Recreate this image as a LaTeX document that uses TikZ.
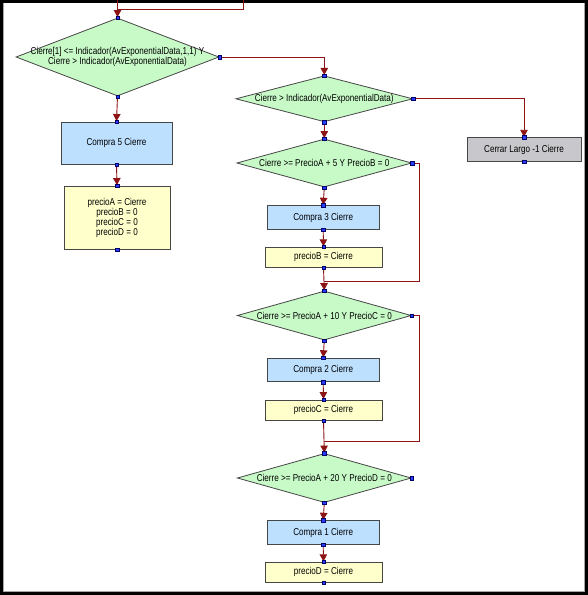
\documentclass[tikz,border=0pt]{standalone}
\usepackage{fontspec}
\setmainfont{Liberation Sans}[FakeStretch=0.81]
\usetikzlibrary{shapes.geometric,arrows.meta}
\definecolor{lnred}{RGB}{140,20,20}
\definecolor{diafill}{RGB}{200,250,200}
\definecolor{actfill}{RGB}{189,224,255}
\definecolor{setfill}{RGB}{255,255,204}
\definecolor{endfill}{RGB}{200,200,204}
\definecolor{edgegrey}{RGB}{70,70,70}
\definecolor{portblue}{RGB}{40,60,255}
\tikzset{
  x=1pt,y=-1pt,
  txt/.style={font=\fontsize{10}{10}\selectfont, align=center, inner sep=0pt, text=black},
  dia/.style={diamond, draw=edgegrey, line width=0.8pt, fill=diafill, inner sep=0pt, aspect=2},
  act/.style={rectangle, draw=edgegrey, line width=0.9pt, fill=actfill, inner sep=0pt, font=\fontsize{10}{10}\selectfont},
  setb/.style={rectangle, draw=edgegrey, line width=0.9pt, fill=setfill, inner sep=0pt, font=\fontsize{10}{10}\selectfont, align=center},
  endb/.style={rectangle, draw=edgegrey, line width=0.9pt, fill=endfill, inner sep=0pt, font=\fontsize{10}{10}\selectfont},
  conn/.style={draw=lnred, line width=0.9pt},
  arr/.style={conn, -{Triangle[width=7.5pt,length=7pt]}, shorten >=0.5pt},
  port/.style={rectangle, fill=portblue, draw=blue!40!black, line width=0.3pt, minimum size=3.4pt, inner sep=0pt},
}
\begin{document}
\begin{tikzpicture}
\useasboundingbox (0,0) rectangle (588,595);
% frame
\fill[black] (0,0) rectangle (588,595);
\fill[white] (3.2,3.2) rectangle (584.2,591.8);
\draw[gray!70, line width=0.8pt] (3.6,3.2) -- (3.6,591.2) -- (584,591.2) -- (584,3.2);

% shapes
\node[dia, minimum width=203, minimum height=78] (d1) at (117.5,57) {};
\node[txt] (d1t) at (d1) {Cierre[1] <= Indicador(AvExponentialData,1,1) Y\\Cierre > Indicador(AvExponentialData)};
\node[act, minimum width=111, minimum height=42] (b5) at (116.5,143) {Compra 5 Cierre};
\node[setb, minimum width=106, minimum height=63] (pa) at (117,217.5) {precioA = Cierre\\precioB = 0\\precioC = 0\\precioD = 0};

\node[dia, minimum width=177, minimum height=46] (d2) at (324.3,98.8) {};
\node[txt] (d2t) at (d2) {Cierre > Indicador(AvExponentialData)};
\node[endb, minimum width=114, minimum height=23.5] (cl) at (524,149.5) {Cerrar Largo -1 Cierre};

\node[dia, minimum width=175, minimum height=48] (d3) at (324.3,163) {};
\node[txt] (d3t) at (d3) {Cierre >= PrecioA + 5 Y PrecioB = 0};
\node[act, minimum width=112, minimum height=23.5] (b3) at (323.2,217.5) {Compra 3 Cierre};
\node[setb, minimum width=117, minimum height=20] (pb) at (323.5,257.3) {precioB = Cierre};

\node[dia, minimum width=174, minimum height=49] (d4) at (324.3,315.5) {};
\node[txt] (d4t) at (d4) {Cierre >= PrecioA + 10 Y PrecioC = 0};
\node[act, minimum width=112, minimum height=23.5] (b2) at (323.2,370) {Compra 2 Cierre};
\node[setb, minimum width=117, minimum height=20] (pc) at (323.5,410) {precioC = Cierre};

\node[dia, minimum width=174, minimum height=49] (d5) at (324.3,478) {};
\node[txt] (d5t) at (d5) {Cierre >= PrecioA + 20 Y PrecioD = 0};
\node[act, minimum width=112, minimum height=23.5] (b1) at (323.2,532.5) {Compra 1 Cierre};
\node[setb, minimum width=117, minimum height=20] (pd) at (323.5,572.3) {precioD = Cierre};

% free ends / bends
\coordinate (in1) at (117.5,0);
\coordinate (in2) at (243,0);
\coordinate (j3) at (419.3,281.7);
\coordinate (j4) at (419.3,441.7);

% connectors
\draw[conn] (in2) |- (117.5,9.6);
\draw[arr] (in1) -- (d1.north);
\draw[arr] (d1.south) -- (b5.north);
\draw[arr] (b5.south) -- (pa.north);
\draw[arr] (d1.east) -| (d2.north);
\draw[arr] (d2.east) -| (cl.north);
\draw[arr] (d2.south) -- (d3.north);
\draw[arr] (d3.south) -- (b3.north);
\draw[arr] (b3.south) -- (pb.north);
\draw[conn] (d3.east) -| (j3) -- (d3.south |- j3);
\draw[arr] (pb.south) -- (d4.north);
\draw[arr] (d4.south) -- (b2.north);
\draw[arr] (b2.south) -- (pc.north);
\draw[conn] (d4.east) -| (j4) -- (d4.south |- j4);
\draw[arr] (pc.south) -- (d5.north);
\draw[arr] (d5.south) -- (b1.north);
\draw[arr] (b1.south) -- (pd.north);

% ports
\foreach \n in {d1,d2,d3,d4,d5}{
  \node[port] at (\n.north) {};
  \node[port] at (\n.south) {};
  \node[port] at (\n.east) {};
}
\foreach \n in {b5,pa,cl,b3,pb,b2,pc,b1,pd}{
  \node[port] at (\n.north) {};
  \node[port] at (\n.south) {};
}
\end{tikzpicture}
\end{document}
